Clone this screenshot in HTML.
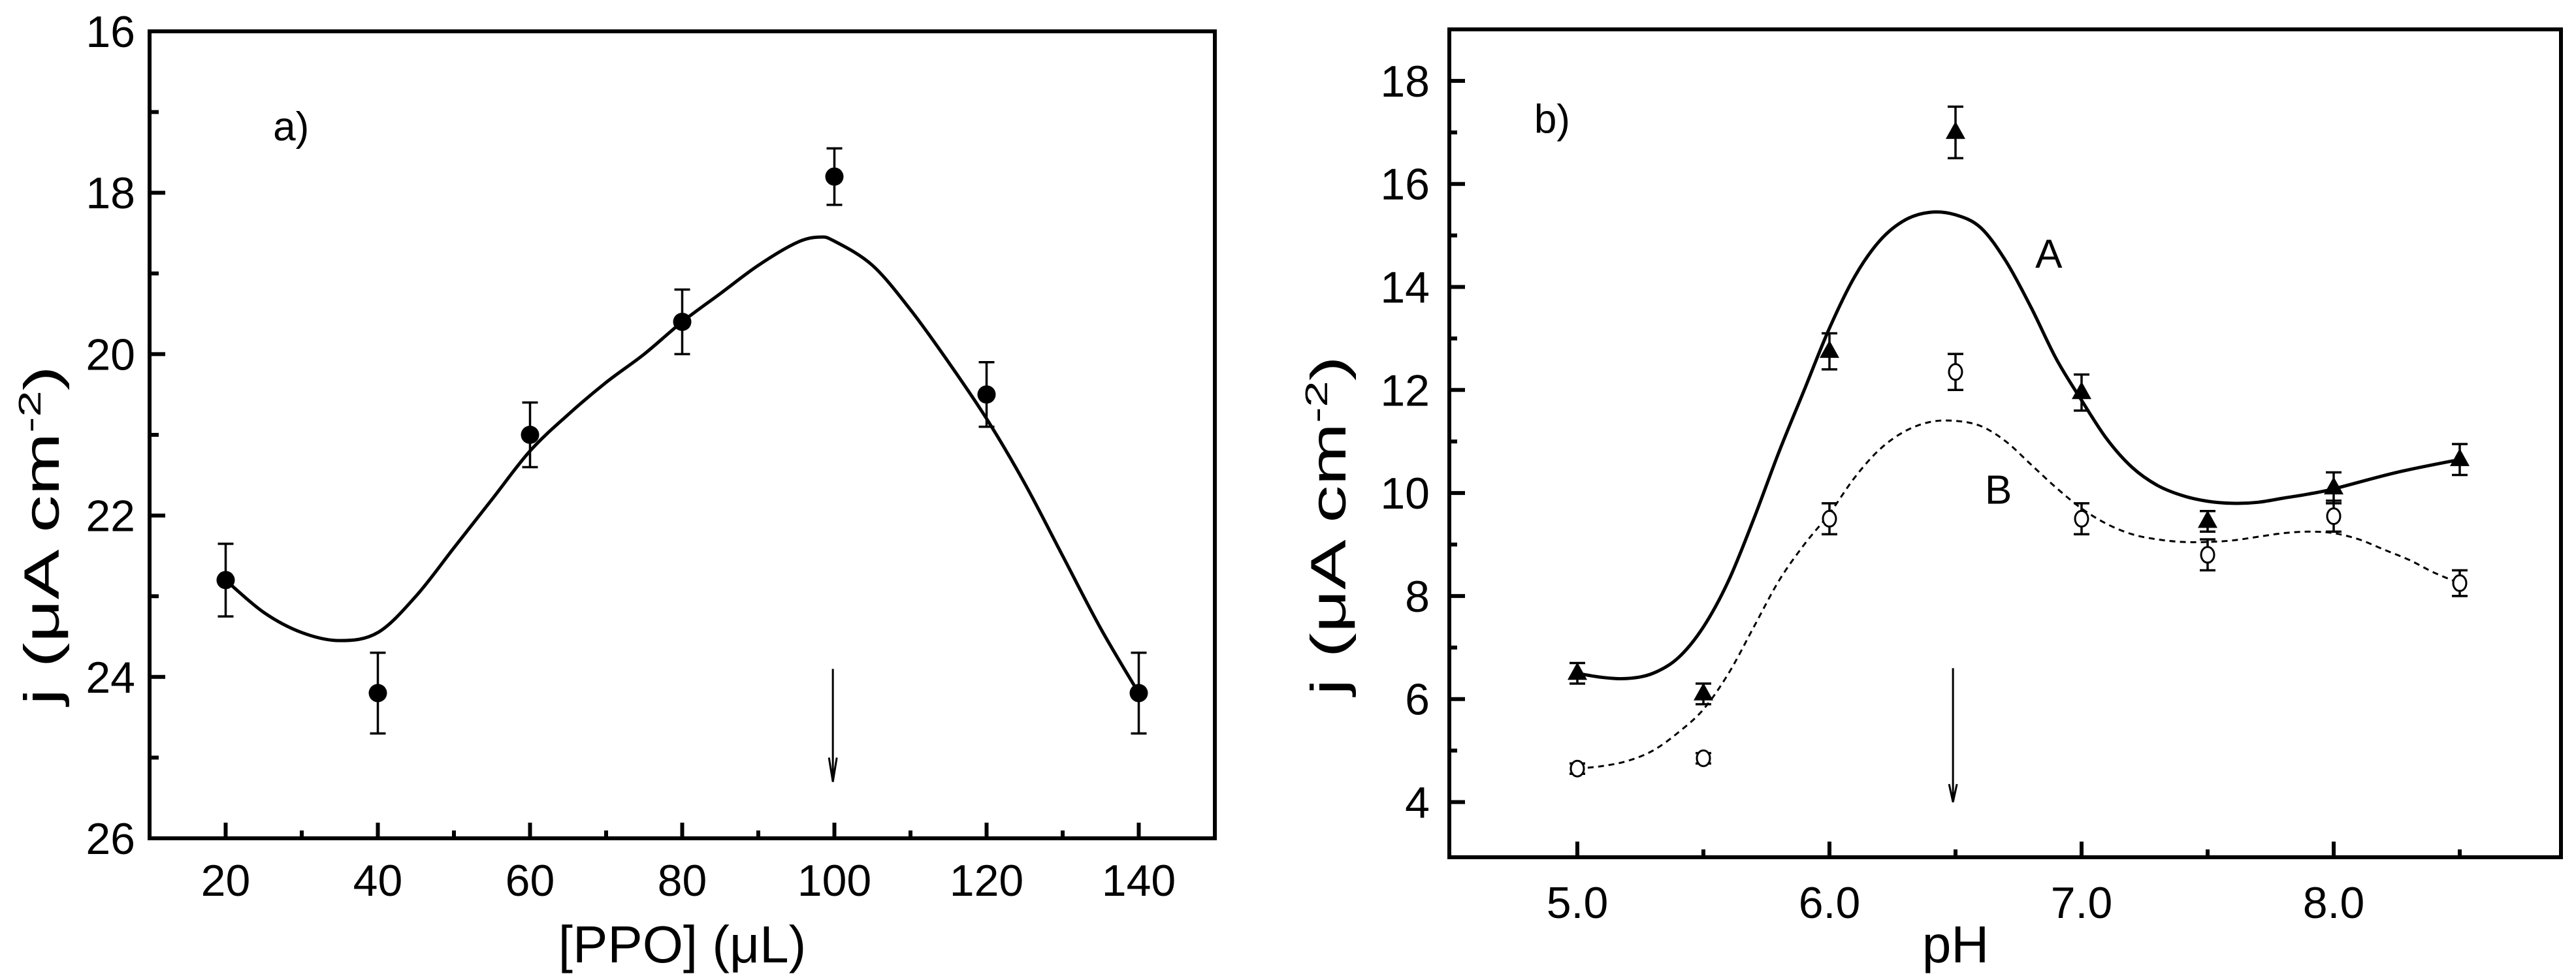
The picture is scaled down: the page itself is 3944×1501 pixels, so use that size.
<!DOCTYPE html>
<html><head><meta charset="utf-8"><style>
html,body{margin:0;padding:0;background:#fff;}
svg{display:block;font-family:"Liberation Sans",Arial,sans-serif;}
</style></head><body>
<svg id="fig" width="3944" height="1501" viewBox="0 0 3944 1501" xmlns="http://www.w3.org/2000/svg"></svg>
<script>
// ---------- Panel a data ----------
const ppoX = [20, 40, 60, 80, 100, 120, 140];
const ppoJ = [22.8, 24.2, 21.0, 19.6, 17.8, 20.5, 24.2];
const ppoErr = [0.45, 0.5, 0.4, 0.4, 0.35, 0.4, 0.5];
const ppoFitX = [20,25,30,35,40,45,50,55,60,65,70,75,80,85,90,95,98,100,105,110,115,120,125,130,135,140];
const ppoFitJ = [22.8,23.2,23.45,23.55,23.45,23.0,22.4,21.8,21.2,20.75,20.35,20.0,19.6,19.25,18.9,18.62,18.55,18.6,18.9,19.45,20.1,20.8,21.6,22.5,23.4,24.2];
const aYTicks = [16, 18, 20, 22, 24, 26];
const aXTicks = [20, 40, 60, 80, 100, 120, 140];
// ---------- Panel b data ----------
const phX = [5.0, 5.5, 6.0, 6.5, 7.0, 7.5, 8.0, 8.5];
const jA = [6.5, 6.1, 12.75, 17.0, 11.95, 9.45, 10.1, 10.65];
const errA = [0.2, 0.2, 0.35, 0.5, 0.35, 0.2, 0.3, 0.3];
const jB = [4.65, 4.85, 9.5, 12.35, 9.5, 8.8, 9.55, 8.25];
const errB = [0.1, 0.1, 0.3, 0.35, 0.3, 0.3, 0.3, 0.25];
const fitAX = [5.0,5.1,5.2,5.3,5.4,5.5,5.6,5.7,5.8,5.9,6.0,6.1,6.2,6.3,6.4,6.5,6.6,6.7,6.8,6.9,7.0,7.1,7.2,7.3,7.4,7.5,7.6,7.7,7.8,7.9,8.0,8.25,8.5];
const fitAY = [6.5,6.42,6.4,6.5,6.8,7.4,8.3,9.5,10.8,12.0,13.2,14.2,14.9,15.3,15.45,15.4,15.15,14.5,13.6,12.6,11.8,11.05,10.5,10.15,9.95,9.84,9.8,9.82,9.9,9.98,10.08,10.4,10.65];
const fitBX = [5.0,5.1,5.2,5.3,5.4,5.5,5.6,5.7,5.8,5.9,6.0,6.1,6.2,6.3,6.4,6.5,6.6,6.7,6.8,6.9,7.0,7.1,7.2,7.3,7.4,7.5,7.6,7.7,7.8,7.9,8.0,8.1,8.2,8.3,8.4,8.5];
const fitBY = [4.65,4.7,4.8,5.0,5.35,5.8,6.5,7.4,8.3,9.0,9.6,10.3,10.85,11.2,11.38,11.4,11.3,11.0,10.55,10.1,9.7,9.4,9.2,9.1,9.05,9.05,9.08,9.15,9.22,9.25,9.22,9.1,8.9,8.7,8.45,8.25];
const bYTicks = [4, 6, 8, 10, 12, 14, 16, 18];
const bXTicks = [5.0, 6.0, 7.0, 8.0];

const NS = "http://www.w3.org/2000/svg";
const svg = document.getElementById('fig');
function mk(tag, attrs, parent){
  const e = document.createElementNS(NS, tag);
  for (const k in attrs) e.setAttribute(k, attrs[k]);
  (parent||svg).appendChild(e);
  return e;
}
function smoothPath(pts){
  let d = 'M' + pts[0][0] + ',' + pts[0][1];
  for (let i=0;i<pts.length-1;i++){
    const p0=pts[Math.max(0,i-1)], p1=pts[i], p2=pts[i+1], p3=pts[Math.min(pts.length-1,i+2)];
    const c1=[p1[0]+(p2[0]-p0[0])/6, p1[1]+(p2[1]-p0[1])/6];
    const c2=[p2[0]-(p3[0]-p1[0])/6, p2[1]-(p3[1]-p1[1])/6];
    d += ' C'+c1[0]+','+c1[1]+' '+c2[0]+','+c2[1]+' '+p2[0]+','+p2[1];
  }
  return d;
}

// ===== Panel a =====
const aL=229, aR=1860, aT=48, aB=1284;
const ax = v => aL + (v-10)*(aR-aL)/140;
const ay = v => aT + (v-16)*(aB-aT)/10;
const ga = mk('g', {});


let f = mk('rect', {x:aL, y:aT, width:aR-aL, height:aB-aT, fill:'none', stroke:'#000', 'stroke-width':6}, ga);


for (let v=16; v<=26; v+=1){
  const major = (v%2===0);
  const t = mk('line', {x1:aL, x2:aL+(major?24:14), y1:ay(v), y2:ay(v), stroke:'#000','stroke-width':6}, ga);
  
  
}
aYTicks.forEach(v=>{
  const t = mk('text', {x:aL-22, y:ay(v)+24, 'font-size':68, 'text-anchor':'end'}, ga);
  t.textContent = v;
  
  
});
for (let v=20; v<=140; v+=10){
  const major = (v%20===0);
  const t = mk('line', {x1:ax(v), x2:ax(v), y1:aB, y2:aB-(major?24:12), stroke:'#000','stroke-width':6}, ga);
  
  
}
aXTicks.forEach(v=>{
  const t = mk('text', {x:ax(v), y:aB+88, 'font-size':68, 'text-anchor':'middle'}, ga);
  t.textContent = v;
  
  
});
let tt = mk('text', {x:ax(80), y:1474, 'font-size':80, 'text-anchor':'middle'}, ga);
tt.textContent = '[PPO] (\u03BCL)';


tt = mk('text', {x:0, y:0, 'font-size':76, 'text-anchor':'middle', textLength:520, lengthAdjust:'spacingAndGlyphs', transform:'translate(90,820) rotate(-90)'}, ga);
tt.innerHTML = 'j (\u03BCA cm<tspan dy="-28" font-size="48">-2</tspan><tspan dy="28">)</tspan>';


tt = mk('text', {x:ax(28.6), y:ay(17.35), 'font-size':62, 'text-anchor':'middle'}, ga);
tt.textContent = 'a)';


let fit = mk('path', {d:smoothPath(ppoFitX.map((x,i)=>[ax(x), ay(ppoFitJ[i])])), fill:'none', stroke:'#000','stroke-width':5}, ga);


ppoX.forEach((x,i)=>{
  const cx=ax(x), y1=ay(ppoJ[i]-ppoErr[i]), y2=ay(ppoJ[i]+ppoErr[i]);
  const e = mk('path', {d:`M${cx},${y1}V${y2}M${cx-12},${y1}H${cx+12}M${cx-12},${y2}H${cx+12}`, stroke:'#000','stroke-width':3.5, fill:'none'}, ga);
  
  
  const c = mk('circle', {cx:cx, cy:ay(ppoJ[i]), r:14, fill:'#000'}, ga);
  
  
});
let arr = mk('path', {d:`M${ax(99.8)},${ay(23.9)}V${ay(25.3)}M${ax(99.8)-6},${ay(25.0)}L${ax(99.8)},${ay(25.3)}L${ax(99.8)+6},${ay(25.0)}`, stroke:'#000','stroke-width':3, fill:'none'}, ga);



// ===== Panel b =====
const bL=2219, bR=3921, bT=45, bB=1313;
const bx = v => 3573 + (v-8)*386;
const by = v => bT + (19-v)*78.9;
const gb = mk('g', {});


f = mk('rect', {x:bL, y:bT, width:bR-bL, height:bB-bT, fill:'none', stroke:'#000','stroke-width':6}, gb);


for (let v=4; v<=19; v+=1){
  const major = (v%2===0);
  const t = mk('line', {x1:bL, x2:bL+(major?24:12), y1:by(v), y2:by(v), stroke:'#000','stroke-width':6}, gb);
  
  
}
bYTicks.forEach(v=>{
  const t = mk('text', {x:bL-30, y:by(v)+24, 'font-size':68, 'text-anchor':'end'}, gb);
  t.textContent = v;
  
  
});
for (let v=5.0; v<=8.51; v+=0.5){
  const major = Math.abs(v-Math.round(v))<0.01;
  const t = mk('line', {x1:bx(v), x2:bx(v), y1:bB, y2:bB-(major?24:12), stroke:'#000','stroke-width':6}, gb);
  
  
}
bXTicks.forEach(v=>{
  const t = mk('text', {x:bx(v), y:1406, 'font-size':68, 'text-anchor':'middle'}, gb);
  t.textContent = v.toFixed(1);
  
  
});
tt = mk('text', {x:bx(6.5), y:1474, 'font-size':80, 'text-anchor':'middle'}, gb);
tt.textContent = 'pH';


tt = mk('text', {x:0, y:0, 'font-size':76, 'text-anchor':'middle', textLength:520, lengthAdjust:'spacingAndGlyphs', transform:'translate(2060,805) rotate(-90)'}, gb);
tt.innerHTML = 'j (\u03BCA cm<tspan dy="-28" font-size="48">-2</tspan><tspan dy="28">)</tspan>';


tt = mk('text', {x:bx(4.9), y:by(17.27)+22, 'font-size':62, 'text-anchor':'middle'}, gb);
tt.textContent = 'b)';


tt = mk('text', {x:bx(6.87), y:by(14.65)+22, 'font-size':62, 'text-anchor':'middle'}, gb);
tt.textContent = 'A';


tt = mk('text', {x:bx(6.67), y:by(10.07)+22, 'font-size':62, 'text-anchor':'middle'}, gb);
tt.textContent = 'B';


fit = mk('path', {d:smoothPath(fitAX.map((x,i)=>[bx(x), by(fitAY[i])])), fill:'none', stroke:'#000','stroke-width':5}, gb);


fit = mk('path', {d:smoothPath(fitBX.map((x,i)=>[bx(x), by(fitBY[i])])), fill:'none', stroke:'#000','stroke-width':3,'stroke-dasharray':'9,7'}, gb);


phX.forEach((x,i)=>{
  const cx=bx(x);
  let y1=by(jA[i]-errA[i]), y2=by(jA[i]+errA[i]);
  let e = mk('path', {d:`M${cx},${y1}V${y2}M${cx-12},${y1}H${cx+12}M${cx-12},${y2}H${cx+12}`, stroke:'#000','stroke-width':3.5, fill:'none'}, gb);
  
  
  const cy=by(jA[i]);
  const tri = mk('polygon', {points:`${cx},${cy-17} ${cx-15},${cy+10} ${cx+15},${cy+10}`, fill:'#000'}, gb);
  
  
  y1=by(jB[i]-errB[i]); y2=by(jB[i]+errB[i]);
  e = mk('path', {d:`M${cx},${y1}V${y2}M${cx-12},${y1}H${cx+12}M${cx-12},${y2}H${cx+12}`, stroke:'#000','stroke-width':3.5, fill:'none'}, gb);
  
  
  const c = mk('ellipse', {cx:cx, cy:by(jB[i]), rx:10, ry:12, fill:'#fff', stroke:'#000','stroke-width':3}, gb);
  
  
});
arr = mk('path', {d:`M${bx(6.49)},${by(6.6)}V${by(4.0)}M${bx(6.49)-6},${by(4.35)}L${bx(6.49)},${by(4.0)}L${bx(6.49)+6},${by(4.35)}`, stroke:'#000','stroke-width':3, fill:'none'}, gb);


</script>
</body></html>
